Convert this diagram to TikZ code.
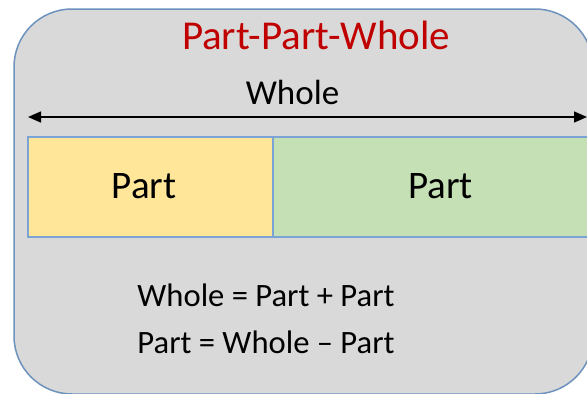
\documentclass[tikz,border=0pt]{standalone}
\usepackage{fontspec}
\setmainfont{Carlito}
\usetikzlibrary{arrows.meta}
\definecolor{panelgray}{HTML}{D9D9D9}
\definecolor{panelborder}{HTML}{6E92BE}
\definecolor{boxborder}{HTML}{7BA3D6}
\definecolor{titlered}{HTML}{C00000}
\definecolor{partyellow}{HTML}{FFE699}
\definecolor{partgreen}{HTML}{C5E0B4}
\tikzset{
  partbox/.style={draw=boxborder, line width=1.4pt},
  lbl/.style={inner sep=0pt, anchor=base, text=black},
}
\begin{document}
\begin{tikzpicture}[x=1pt,y=-1pt]
\useasboundingbox (0,0) rectangle (587,394);
\clip (0,0) rectangle (587,394);
\fill[white] (0,0) rectangle (587,394);
% panel
\draw[fill=panelgray, draw=panelborder, line width=1.5pt, rounded corners=58pt] (14,9) rectangle (593,394);
% boxes
\draw[partbox, fill=partyellow] (28,137) rectangle (273,237);
\draw[partbox, fill=partgreen] (273,137) rectangle (605,237);
% texts
\node[lbl, text=titlered, font=\fontsize{41}{48}\selectfont] (title) at (316,49) {Part-Part-Whole};
\node[lbl, font=\fontsize{35}{42}\selectfont] (whole) at (292.5,104) {Whole};
\node[lbl, font=\fontsize{39}{46}\selectfont] (partA) at (144,198) {Part};
\node[lbl, font=\fontsize{39}{46}\selectfont] (partB) at (440.5,198) {Part};
\node[lbl, font=\fontsize{32.6}{40}\selectfont] (eq1) at (266,306) {Whole = Part + Part};
\node[lbl, font=\fontsize{32.6}{40}\selectfont] (eq2) at (266,353) {Part = Whole – Part};
% arrow
\coordinate (arrL) at (28,117);
\coordinate (arrR) at (587,117);
\draw[line width=1.5pt, {Triangle[length=13pt,width=11pt]}-{Triangle[length=13pt,width=11pt]}] (arrL) -- (arrR);
\end{tikzpicture}
\end{document}
